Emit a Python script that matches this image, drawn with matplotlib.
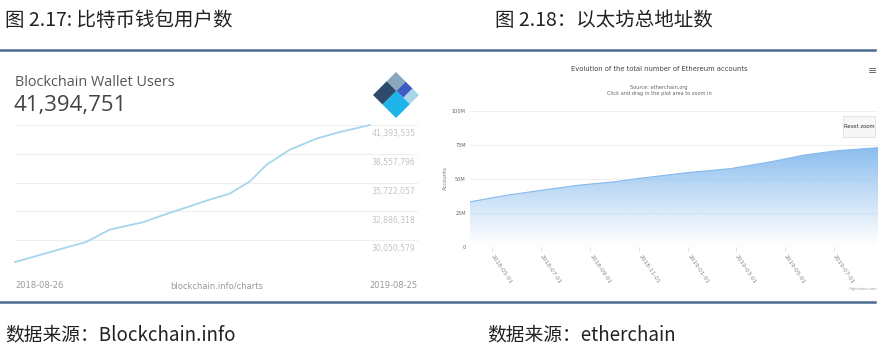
import matplotlib
matplotlib.use('Agg')
import matplotlib.pyplot as plt
import matplotlib.dates as mdates
from matplotlib.patches import Polygon, Rectangle
from matplotlib.lines import Line2D
import numpy as np
import pandas as pd

plt.rcParams['font.family'] = ['Noto Sans CJK SC', 'DejaVu Sans']

# left chart: blockchain wallet users
BTC_DATES = ['2018-08-26', '2018-09-24', '2018-10-18', '2018-11-07', '2018-12-01',
             '2019-01-05', '2019-01-29', '2019-02-21', '2019-03-11', '2019-04-03',
             '2019-04-24', '2019-05-11', '2019-06-04', '2019-07-01', '2019-07-25',
             '2019-08-25']
BTC_USERS = [27.90, 28.69, 29.35, 29.87, 31.09, 31.84, 32.66, 33.38, 33.97, 34.63,
             35.85, 37.49, 38.97, 40.05, 40.70, 41.39]  # millions
BTC_TICKS = ['41,393,535', '38,557,796', '35,722,057', '32,886,318', '30,050,579']
BTC_BOTTOM = 27214840

# right chart: ethereum accounts
ETH_DATES = ['2018-04-04', '2018-05-19', '2018-07-03', '2018-08-18', '2018-10-02',
             '2018-10-31', '2018-12-28', '2019-02-23', '2019-04-14', '2019-05-25',
             '2019-07-05', '2019-08-25']
ETH_ACCOUNTS = [33.2, 38.0, 41.8, 45.5, 48.0, 50.4, 54.5, 57.7, 62.7, 67.6, 70.8, 73.0]  # millions
ETH_XTICKS = ['2018-05-01', '2018-07-01', '2018-09-01', '2018-11-01',
              '2019-01-01', '2019-03-01', '2019-05-01', '2019-07-01']
ETH_YTICKS = [0, 25, 50, 75, 100]
ETH_YLABELS = ['0', '25M', '50M', '75M', '100M']

W, H = 879, 358


def P(x, y):
    return (x / W, 1 - y / H)


def box(x0, y0, x1, y1):
    return [x0 / W, 1 - y1 / H, (x1 - x0) / W, (y1 - y0) / H]


fig = plt.figure(figsize=(W / 100, H / 100), dpi=100)
fig.patch.set_facecolor('white')

# page titles, rules, sources
fig.text(*P(5, 20), '图 2.17: 比特币钱包用户数', fontsize=14, color='#222222', va='center')
fig.text(*P(495, 20), '图 2.18：以太坊总地址数', fontsize=14, color='#222222', va='center')
rule = '#4a6a94'
fig.add_artist(Line2D([0, 875 / W], [1 - 50 / H] * 2, color=rule, lw=1.8))
fig.add_artist(Line2D([0, 875 / W], [1 - 302 / H] * 2, color=rule, lw=1.8))
fig.text(*P(5, 335), '数据来源：Blockchain.info', fontsize=13.5, color='#222222', va='center')
fig.text(*P(487, 335), '数据来源：etherchain', fontsize=13.5, color='#222222', va='center')

# ---- left panel ----
fig.text(*P(15, 83), 'Blockchain Wallet Users', fontsize=10.4, color='#555555', va='center',
         family=['Open Sans', 'DejaVu Sans'])
fig.text(*P(14, 106), '41,394,751', fontsize=16, color='#444444', va='center',
         family=['Open Sans', 'DejaVu Sans'])

# logo: rotated square split into coloured blocks
L, T, B = np.array([373.0, 95.0]), np.array([396.0, 72.0]), np.array([396.0, 118.0])


def lp(a, b):
    p = L + a * (T - L) + b * (B - L)
    return P(*p)


blocks = [
    ((0.0, 0.6, 0.0, 0.42), '#2d4b6d'),
    ((0.6, 1.0, 0.0, 0.42), '#8aa7bd'),
    ((0.6, 1.0, 0.42, 0.72), '#3f5cc6'),
    ((0.6, 1.0, 0.72, 1.0), '#a9d4ea'),
    ((0.0, 0.6, 0.42, 1.0), '#1db4ea'),
]
for (a0, a1, b0, b1), col in blocks:
    pts = [lp(a0, b0), lp(a1, b0), lp(a1, b1), lp(a0, b1)]
    fig.add_artist(Polygon(pts, closed=True, facecolor=col, edgecolor='none'))

ax1 = fig.add_axes(box(15, 125, 418, 269))
bx = mdates.date2num(pd.to_datetime(BTC_DATES))
by = np.array(BTC_USERS) * 1e6
tick_vals = [int(t.replace(',', '')) for t in BTC_TICKS]
ax1.set_ylim(BTC_BOTTOM, tick_vals[0])
x_end = bx[0] + (bx[-1] - bx[0]) * (418 - 15) / (370 - 15)
ax1.set_xlim(bx[0], x_end)
for v in tick_vals + [BTC_BOTTOM]:
    ax1.axhline(v, color='#eeeeee', lw=0.8, zorder=0)
ax1.plot(bx, by, color='#a4d6ee', lw=1.3, zorder=2, clip_on=False)
for v, lab in zip(tick_vals, BTC_TICKS):
    ax1.annotate(lab, (1, v), xycoords=('axes fraction', 'data'), xytext=(-2, -3),
                 textcoords='offset points', ha='right', va='top', fontsize=5.6,
                 color='#c4c4c4', family=['DejaVu Sans'])
ax1.axis('off')
fig.text(*P(15, 286), '2018-08-26', fontsize=6, color='#9a9a9a', va='center', family=['DejaVu Sans'])
fig.text(*P(217, 286), 'blockchain.info/charts', fontsize=6, color='#9a9a9a', va='center',
         ha='center', family=['DejaVu Sans'])
fig.text(*P(418, 286), '2019-08-25', fontsize=6, color='#9a9a9a', va='center', ha='right',
         family=['DejaVu Sans'])

# ---- right panel ----
narrow = ['Liberation Sans Narrow', 'DejaVu Sans']
fig.text(*P(659, 69), 'Evolution of the total number of Ethereum accounts', fontsize=4.9,
         color='#444444', ha='center', va='center', family=narrow)
fig.text(*P(659, 88), 'Source: etherchain.org', fontsize=3.6, color='#666666',
         ha='center', va='center', family=narrow)
fig.text(*P(659, 93), 'Click and drag in the plot area to zoom in', fontsize=3.6,
         color='#666666', ha='center', va='center', family=narrow)
fig.text(*P(873, 71), '≡', fontsize=8, color='#666666', ha='center', va='center',
         family=['DejaVu Sans'])
fig.add_artist(Rectangle(P(843, 137), 32 / W, 21 / H, facecolor='#f7f7f7',
                         edgecolor='#dddddd', lw=0.5))
fig.text(*P(859, 126), 'Reset zoom', fontsize=3.8, color='#333333', ha='center',
         va='center', family=narrow)
fig.text(*P(445, 178), 'Accounts', fontsize=3.8, color='#777777', rotation=90,
         ha='center', va='center', family=narrow)
fig.text(*P(877, 289), 'Highcharts.com', fontsize=2.6, color='#999999', ha='right',
         va='center', family=narrow)

ax2 = fig.add_axes(box(470, 111, 878, 247))
ex = mdates.date2num(pd.to_datetime(ETH_DATES))
ey = np.array(ETH_ACCOUNTS)
poly = ax2.fill_between(ex, ey, 0, facecolor='none', edgecolor='none')
grad = np.linspace(0, 1, 256)[:, None]
rgba = np.zeros((256, 1, 4))
rgba[..., 0] = 124 / 255
rgba[..., 1] = 181 / 255
rgba[..., 2] = 236 / 255
rgba[..., 3] = np.clip(grad * 100 / 75, 0, 1) ** 1.1 * 0.92
img = ax2.imshow(rgba, extent=[ex[0], ex[-1], 0, 100], origin='lower', aspect='auto', zorder=1)
img.set_clip_path(poly.get_paths()[0], transform=ax2.transData)
ax2.plot(ex, ey, color='#86b9ec', lw=0.8, zorder=2)
ax2.set_xlim(ex[0], ex[-1])
ax2.set_ylim(0, 100)
for v in ETH_YTICKS[1:]:
    ax2.axhline(v, color='#eeeeee', lw=0.6, zorder=0)
for s in ax2.spines.values():
    s.set_visible(False)
ax2.axhline(0, color='#ccd6eb', lw=0.8, zorder=3)
ax2.set_yticks(ETH_YTICKS)
ax2.set_yticklabels(ETH_YLABELS, fontsize=3.6, color='#666666', family=narrow)
ax2.tick_params(axis='y', length=0, pad=3)
xt = mdates.date2num(pd.to_datetime(ETH_XTICKS))
ax2.set_xticks(xt)
ax2.set_xticklabels(ETH_XTICKS, fontsize=4.2, color='#888888', family=narrow,
                    rotation=-56, ha='left', va='center', rotation_mode='anchor')
ax2.tick_params(axis='x', length=3, width=0.5, color='#ccd6eb', pad=3)
ax2.set_facecolor('none')

fig.savefig('out.png', dpi=100, facecolor='white')
